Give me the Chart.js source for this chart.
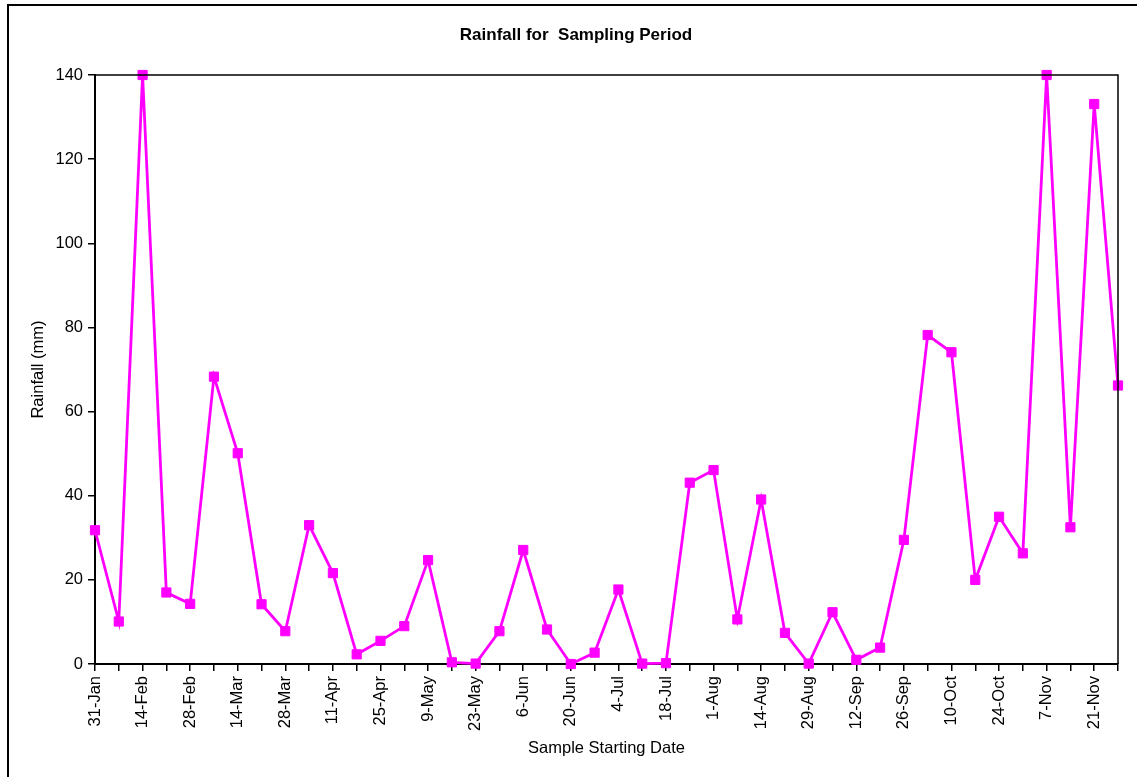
<!DOCTYPE html>
<html lang="en">
<head>
  <meta charset="UTF-8" />
  <title>Rainfall for Sampling Period</title>
  <script src="https://cdn.jsdelivr.net/npm/chart.js"></script>
  <style>
    html, body { margin: 0; padding: 0; background: #fff; overflow: hidden; }
    #frame {
      position: absolute; left: 7px; top: 4px;
      width: 1300px; height: 900px;
      border: 2px solid #000;
    }
    #wrap { position: absolute; left: 0; top: 0; width: 1137px; height: 777px; }
  </style>
</head>
<body>
<div id="frame"></div>
<div id="wrap"><canvas id="rainChart"></canvas></div>

<script>
  // sample starting dates (labels shown on every second one)
  const sampleDates = [
    "31-Jan", "7-Feb", "14-Feb", "21-Feb", "28-Feb", "7-Mar", "14-Mar", "21-Mar",
    "28-Mar", "4-Apr", "11-Apr", "18-Apr", "25-Apr", "2-May", "9-May", "16-May",
    "23-May", "30-May", "6-Jun", "13-Jun", "20-Jun", "27-Jun", "4-Jul", "11-Jul",
    "18-Jul", "25-Jul", "1-Aug", "7-Aug", "14-Aug", "22-Aug", "29-Aug", "5-Sep",
    "12-Sep", "19-Sep", "26-Sep", "3-Oct", "10-Oct", "17-Oct", "24-Oct", "31-Oct",
    "7-Nov", "14-Nov", "21-Nov", "28-Nov"
  ];

  // rainfall (mm)
  const rainfall = [
    31.8, 10.1, 140, 17.0, 14.3, 68.3, 50.1, 14.2,
    7.8, 33.0, 21.6, 2.3, 5.5, 9.0, 24.7, 0.4,
    0.1, 7.8, 27.1, 8.2, 0.0, 2.7, 17.7, 0.1,
    0.2, 43.1, 46.1, 10.6, 39.1, 7.4, 0.1, 12.3,
    1.0, 3.9, 29.5, 78.2, 74.1, 20.0, 35.0, 26.3,
    140, 32.5, 133.1, 66.2
  ];

  const yTicks = [0, 20, 40, 60, 80, 100, 120, 140];

  const labelFont = { family: "'Liberation Sans', Arial, sans-serif", size: 16.5 };

  // top and right edges of the plot box
  const plotFrame = {
    id: "plotFrame",
    afterDatasetsDraw(chart) {
      const { ctx, chartArea: a } = chart;
      ctx.save();
      ctx.strokeStyle = "#000";
      ctx.lineWidth = 1.5;
      ctx.beginPath();
      ctx.moveTo(a.left, a.top);
      ctx.lineTo(a.right, a.top);
      ctx.lineTo(a.right, a.bottom);
      ctx.stroke();
      ctx.restore();
    }
  };

  new Chart(document.getElementById("rainChart").getContext("2d"), {
    type: "line",
    data: {
      labels: sampleDates,
      datasets: [{
        label: "Rainfall",
        data: rainfall,
        borderColor: "#ff00ff",
        borderWidth: 2.8,
        tension: 0,
        pointStyle: "rect",
        pointRadius: 6.5,
        pointBackgroundColor: "#ff00ff",
        pointBorderColor: "#ff00ff",
        pointBorderWidth: 1,
        fill: false,
        clip: false
      }]
    },
    options: {
      responsive: true,
      maintainAspectRatio: false,
      animation: false,
      layout: { padding: { left: 34, right: 19, top: 0, bottom: 0 } },
      plugins: {
        legend: { display: false },
        tooltip: { enabled: false },
        title: {
          display: true,
          text: "Rainfall for  Sampling Period",
          color: "#000",
          font: { family: "'Liberation Sans', Arial, sans-serif", size: 17, weight: "bold" },
          padding: { top: 24.8, bottom: 29.8 }
        }
      },
      scales: {
        x: {
          offset: false,
          grid: { drawOnChartArea: false, tickLength: 7, color: "#000", lineWidth: 1.5, offset: false },
          border: { color: "#000", width: 2 },
          ticks: {
            autoSkip: false,
            minRotation: 90,
            maxRotation: 90,
            padding: 5,
            color: "#000",
            font: labelFont,
            callback: function (value, index) {
              return index % 2 === 0 ? this.getLabelForValue(value) : "";
            }
          },
          title: {
            display: true,
            text: "Sample Starting Date",
            color: "#000",
            font: labelFont,
            padding: { top: 0, bottom: 19 }
          },
          afterFit(scale) {
            scale.height = 113;
            scale.paddingLeft = 0;
            scale.paddingRight = 0;
          }
        },
        y: {
          min: 0,
          max: 140,
          grid: { drawOnChartArea: false, tickLength: 7, color: "#000", lineWidth: 1.5 },
          border: { color: "#000", width: 2 },
          afterBuildTicks(scale) { scale.ticks = yTicks.map(v => ({ value: v })); },
          ticks: { padding: 5, color: "#000", font: labelFont },
          title: {
            display: true,
            text: "Rainfall (mm)",
            color: "#000",
            font: labelFont,
            padding: { top: -5, bottom: 0 }
          },
          afterFit(scale) { scale.width = 61; }
        }
      }
    },
    plugins: [plotFrame]
  });
</script>
</body>
</html>
